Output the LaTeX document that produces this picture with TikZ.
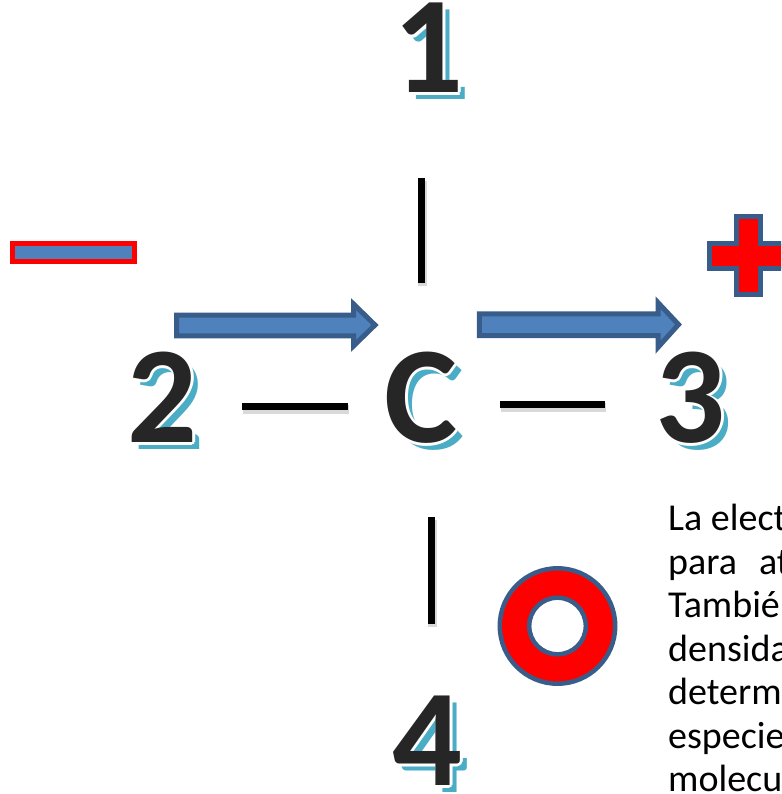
\documentclass[tikz,border=0pt]{standalone}
\usepackage{fontspec}
\setmainfont{Carlito}
\definecolor{shapeblue}{HTML}{4F81BD}
\definecolor{edgeblue}{HTML}{385D8A}
\definecolor{shadowcyan}{HTML}{4BACC6}
\definecolor{glyphgray}{HTML}{262626}

\begin{document}
\begin{tikzpicture}[x=1pt,y=-1pt,
    big digit/.style={font=\fontsize{138}{138}\selectfont\bfseries,
        inner sep=0pt,anchor=base},
    digit shadow/.style={big digit,text=shadowcyan},
    digit halo/.style={big digit,text=white},
    digit face/.style={big digit,text=glyphgray},
    bond/.style={line width=7pt,black},
    bond shadow/.style={line width=9pt,black!15},
    block arrow/.style={fill=shapeblue,draw=edgeblue,line width=5pt,
        line join=miter},
    sign shape/.style={fill=red,draw=edgeblue,line width=5pt},
    body line/.style={font=\fontsize{38}{44}\selectfont,anchor=base west,
        inner sep=0pt}
]
    \useasboundingbox (0,0) rectangle (781,794);
    \clip (0,0) rectangle (781,794);
    \fill[white] (0,0) rectangle (781,794);

    % atom labels with shadow
    \foreach \name/\x/\y/\lab in {one/428/93/1,two/162/442/2,carbon/421/442/C,
        three/690/442/3,four/427/785/4} {
        \node[digit shadow] at (\x+7,\y+7) {\lab};
        \foreach \dx/\dy in {3/0,2.1/2.1,0/3}
            \node[digit halo] at (\x+\dx,\y+\dy) {\lab};
        \node[digit face] (\name) at (\x,\y) {\lab};
    }

    % bonds
    \foreach \a/\b in {{421,178}/{421,283},{242,406}/{348,406},
        {500,404}/{605,404},{431,517}/{431,624}} {
        \draw[bond shadow] ([shift={(1,3)}]\a) -- ([shift={(1,3)}]\b);
        \draw[bond] (\a) -- (\b);
    }

    % arrows
    \draw[block arrow] (176.5,315.2) -- (353.5,315.2) -- (353.5,304)
        -- (375,325) -- (353.5,346) -- (353.5,335.8) -- (176.5,335.8) -- cycle;
    \draw[block arrow] (479.4,313.9) -- (658,313.9) -- (658,302.6)
        -- (678.5,324.5) -- (658,347.3) -- (658,335.7) -- (479.4,335.7) -- cycle;

    % charges
    \draw[draw=red,fill=shapeblue,line width=5pt] (12.5,243.3) rectangle (134.5,261.5);
    \draw[sign shape] (736.5,216.5) -- (760.5,216.5) -- (760.5,243.5)
        -- (787.5,243.5) -- (787.5,268.5) -- (760.5,268.5) -- (760.5,294.5)
        -- (736.5,294.5) -- (736.5,268.5) -- (709.5,268.5) -- (709.5,243.5)
        -- (736.5,243.5) -- cycle;
    \draw[sign shape,line width=4.5pt,even odd rule]
        (557.5,626) circle (57.7) (557.5,626) circle (28.3);

    % text
    \node[body line] (line1) at (668,530) {La electronegatividad};
    \node[body line] (line2) at (668,574) {para\hspace{22pt}atraer};
    \node[body line] (line3) at (668,617) {También};
    \node[body line] (line4) at (668,661) {densidad};
    \node[body line] (line5) at (668,704) {determina};
    \node[body line] (line6) at (668,748) {especies};
    \node[body line] (line7) at (668,791) {molecular};

\end{tikzpicture}
\end{document}
